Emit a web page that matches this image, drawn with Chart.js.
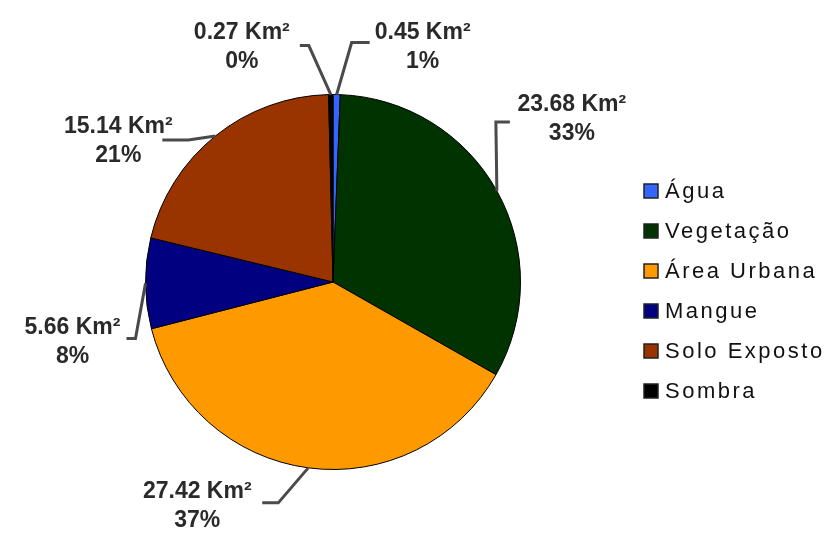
<!DOCTYPE html>
<html>
<head>
<meta charset="utf-8">
<script src="https://cdn.jsdelivr.net/npm/chart.js@4.4.1/dist/chart.umd.min.js"></script>
<style>
  html, body { margin: 0; padding: 0; background: #fff; }
  #wrap { width: 825px; height: 535px; }
</style>
</head>
<body>
<div id="wrap"><canvas id="pieChart" width="825" height="535"></canvas></div>
<script>
// classes de uso do solo
const categories = ['Água', 'Vegetação', 'Área Urbana', 'Mangue', 'Solo Exposto', 'Sombra'];
const areas = [0.45, 23.68, 27.42, 5.66, 15.14, 0.27];      // Km²
const percents = ['1%', '33%', '37%', '8%', '21%', '0%'];
const colors = ['#3366ff', '#003300', '#ff9900', '#000080', '#993300', '#000000'];

// leader line layout for each slice: elbow offset from slice edge, horizontal arm, text offset from arm end
const labelLayout = [
    { elbow: [15, -52], arm: 18, text: [53, -10] },
    { elbow: [-1, -69], arm: 14, text: [62, -17] },
    { elbow: [-30, 35], arm: -16, text: [-65, -11] },
    { elbow: [-10, 55], arm: -9, text: [-54, -11] },
    { elbow: [-27, 4], arm: -26, text: [-44, -13] },
    { elbow: [-22, -49], arm: -9, text: [-58, -13] }
];

const sliceLabels = {
    id: 'sliceLabels',
    afterDraw(chart) {
        const ctx = chart.ctx;
        const arcs = chart.getDatasetMeta(0).data;
        ctx.save();
        arcs.forEach((arc, i) => {
            const p = arc.getProps(['x', 'y', 'startAngle', 'endAngle', 'outerRadius'], true);
            const mid = (p.startAngle + p.endAngle) / 2;
            const ex = p.x + p.outerRadius * Math.cos(mid);
            const ey = p.y + p.outerRadius * Math.sin(mid);
            const L = labelLayout[i];
            const bx = ex + L.elbow[0], by = ey + L.elbow[1];
            const cx = bx + L.arm, cy = by;

            ctx.strokeStyle = '#4a4a4a';
            ctx.lineWidth = 3;
            ctx.beginPath();
            ctx.moveTo(ex, ey);
            ctx.lineTo(bx, by);
            ctx.lineTo(cx, cy);
            ctx.stroke();

            const tx = cx + L.text[0], ty = cy + L.text[1];
            ctx.fillStyle = '#2a2a2a';
            ctx.font = 'bold 23px "Liberation Sans", Arial, sans-serif';
            ctx.textAlign = 'center';
            ctx.textBaseline = 'middle';
            ctx.fillText(areas[i].toFixed(2) + ' Km²', tx, ty);
            ctx.fillText(percents[i], tx, ty + 29);
        });
        ctx.restore();
    }
};

const sideLegend = {
    id: 'sideLegend',
    afterDraw(chart) {
        const ctx = chart.ctx;
        ctx.save();
        ctx.font = '22px "Liberation Sans", Arial, sans-serif';
        ctx.letterSpacing = '2.5px';
        ctx.textAlign = 'left';
        ctx.textBaseline = 'middle';
        categories.forEach((name, i) => {
            const y = 191 + i * 40;
            ctx.fillStyle = colors[i];
            ctx.fillRect(644, y - 7, 14, 14);
            ctx.strokeStyle = '#222';
            ctx.lineWidth = 1.5;
            ctx.strokeRect(644, y - 7, 14, 14);
            ctx.fillStyle = '#111';
            ctx.fillText(name, 665, y + 1);
        });
        ctx.restore();
    }
};

new Chart(document.getElementById('pieChart'), {
    type: 'pie',
    data: {
        labels: categories,
        datasets: [{
            data: areas,
            backgroundColor: colors,
            borderColor: '#000000',
            borderWidth: 1
        }]
    },
    options: {
        responsive: false,
        animation: false,
        events: [],
        layout: { padding: { left: 145, right: 304, top: 94, bottom: 65 } },
        plugins: {
            legend: { display: false },
            tooltip: { enabled: false }
        }
    },
    plugins: [sliceLabels, sideLegend]
});
</script>
</body>
</html>
